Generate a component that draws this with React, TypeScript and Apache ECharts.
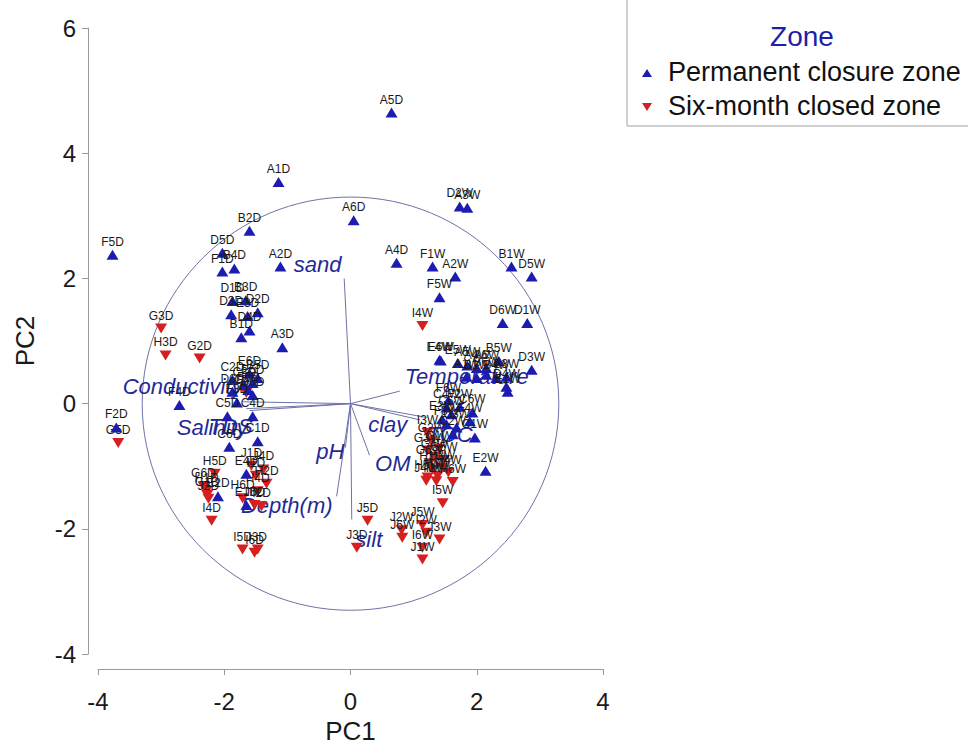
import React, { useEffect, useRef } from "react";
import * as echarts from "echarts";

type Site = [string, number, number];

// PCA scores (PC1, PC2) for each sampling site, D = dry season, W = wet season
const permanentDry: Site[] = [
  ["A1D", -1.14, 3.54], ["A2D", -1.11, 2.19], ["A3D", -1.08, 0.9], ["A4D", 0.73, 2.25],
  ["A5D", 0.65, 4.65], ["A6D", 0.05, 2.93], ["B1D", -1.73, 1.06], ["B2D", -1.6, 2.76],
  ["B3D", -1.66, 1.65], ["B4D", -1.84, 2.16], ["B5D", -1.47, 0.41], ["B6D", -1.55, 0.14],
  ["C1D", -1.47, -0.6], ["C2D", -1.87, 0.38], ["C3D", -1.68, 0.3], ["C4D", -1.55, -0.2],
  ["C5D", -1.95, -0.2], ["C6D", -1.92, -0.69], ["D1D", -1.87, 1.64], ["D2D", -1.47, 1.46],
  ["D3D", -1.89, 1.43], ["D4D", -1.6, 1.17], ["D5D", -2.03, 2.41], ["D6D", -1.87, 0.19],
  ["E1D", -1.65, -1.62], ["E2D", -2.1, -1.48], ["E3D", -1.63, 1.4], ["E4D", -1.65, -1.12],
  ["E5D", -1.55, 0.33], ["E6D", -1.6, 0.48], ["F1D", -2.03, 2.11], ["F2D", -3.71, -0.38],
  ["F3D", -1.8, 0.02], ["F4D", -2.71, -0.02], ["F5D", -3.77, 2.38], ["F6D", -1.62, 0.22],
];

const permanentWet: Site[] = [
  ["A1W", 1.84, 0.43], ["A2W", 1.66, 2.03], ["A3W", 1.85, 3.13], ["A4W", 2.0, 0.57],
  ["A5W", 1.85, 0.61], ["A6W", 2.15, 0.57], ["B1W", 2.55, 2.19], ["B2W", 2.0, 0.41],
  ["B3W", 2.47, 0.43], ["B4W", 2.31, 0.41], ["B5W", 2.35, 0.68], ["B6W", 2.15, 0.46],
  ["C1W", 1.97, -0.54], ["C2W", 1.62, -0.49], ["C3W", 1.68, -0.38], ["C4W", 1.52, -0.06],
  ["C5W", 1.6, -0.17], ["C6W", 1.93, -0.14], ["D1W", 2.8, 1.29], ["D2W", 1.73, 3.15],
  ["D3W", 2.87, 0.54], ["D4W", 2.47, 0.27], ["D5W", 2.87, 2.03], ["D6W", 2.41, 1.29],
  ["E1W", 2.49, 0.19], ["E2W", 2.14, -1.07], ["E3W", 1.45, -0.25], ["E4W", 1.41, 0.7],
  ["E5W", 1.7, 0.65], ["E6W", 1.43, 0.69], ["F1W", 1.3, 2.19], ["F2W", 1.73, -0.05],
  ["F3W", 1.52, -0.33], ["F4W", 1.89, -0.28], ["F5W", 1.41, 1.7], ["F6W", 1.55, 0.05],
];

const sixMonthDry: Site[] = [
  ["G1D", -2.27, -1.46], ["G2D", -2.39, 0.72], ["G3D", -3.0, 1.2], ["G4D", -1.65, 0.17],
  ["G5D", -3.68, -0.63], ["G6D", -2.33, -1.32], ["H1D", -2.28, -1.39], ["H2D", -1.33, -1.28],
  ["H3D", -2.93, 0.77], ["H4D", -1.47, -1.4], ["H5D", -2.15, -1.12], ["H6D", -1.71, -1.51],
  ["I1D", -1.5, -1.15], ["I2D", -1.41, -1.64], ["I3D", -1.47, -2.33], ["I4D", -2.2, -1.87],
  ["I5D", -1.71, -2.33], ["I6D", -1.52, -2.38], ["J1D", -1.57, -0.99], ["J2D", -2.25, -1.52],
  ["J3D", 0.1, -2.3], ["J4D", -1.38, -1.05], ["J5D", 0.27, -1.87], ["J6D", -1.52, -1.62],
];

const sixMonthWet: Site[] = [
  ["G1W", 1.4, -0.72], ["G2W", 1.28, -0.6], ["G3W", 1.22, -0.75], ["G4W", 1.33, -0.85],
  ["G5W", 1.48, -0.9], ["G6W", 1.25, -0.95], ["H1W", 1.3, -1.05], ["H2W", 1.45, -1.02],
  ["H3W", 1.38, -1.15], ["H4W", 1.55, -1.1], ["H5W", 1.22, -1.18], ["H6W", 1.62, -1.25],
  ["I1W", 1.36, -1.24], ["I2W", 1.2, -2.06], ["I3W", 1.22, -0.47], ["I4W", 1.14, 1.24],
  ["I5W", 1.46, -1.59], ["I6W", 1.14, -2.3], ["J1W", 1.14, -2.49], ["J2W", 0.81, -2.02],
  ["J3W", 1.41, -2.17], ["J4W", 1.2, -1.23], ["J5W", 1.14, -1.94], ["J6W", 0.82, -2.14],
];

// Variable loadings (arrow tips) and where each variable name is written
const loadingNames = ["sand", "Conductivity", "Salinity", "TDS", "Temperature", "clay", "TOC", "pH", "OM", "Depth(m)", "silt"];
const loadingPC1 = [-0.1, -1.7, -1.65, -1.6, 0.78, 1.2, 1.1, -0.08, 0.3, -0.22, 0.02];
const loadingPC2 = [2.0, 0.03, -0.08, -0.11, 0.2, -0.22, -0.26, -0.7, -0.82, -1.48, -1.85];
const loadingLabelPC1 = [-0.52, -2.66, -2.19, -1.9, 1.84, 0.59, 1.57, -0.32, 0.67, -1.01, 0.29];
const loadingLabelPC2 = [2.22, 0.28, -0.38, -0.36, 0.44, -0.33, -0.49, -0.77, -0.96, -1.62, -2.17];

// Correlation circle radius in score units
const circleRadius = 3.3;

const seriesNames = ["Permanent closure zone", "Six-month closed zone"];
const xTicks = { min: -4, max: 4, interval: 2 };
const yTicks = { min: -4, max: 6, interval: 2 };

const FONT = "'Liberation Sans', Arial, Helvetica, sans-serif";
const BLUE = "#1c1cb0";
const RED = "#d42020";
const VECTOR = "#6e72a8";
const LOADING_TEXT = "#1f2a96";
const DOWN_TRIANGLE = "path://M0,0L10,0L5,10Z";

const toPoints = (rows: Site[]) => rows.map(([name, x, y]) => ({ name, value: [x, y] }));

export default function App() {
  const ref = useRef<HTMLDivElement>(null);

  useEffect(() => {
    document.body.style.margin = "0";
    const chart = echarts.init(ref.current!, null, { renderer: "svg" });

    const pointLabel = {
      show: true,
      formatter: "{b}",
      position: "top",
      distance: 2,
      fontSize: 12,
      color: "#1a1a1a",
      fontFamily: FONT,
    };

    const vectorLines = loadingNames.map((name, i) => ({
      type: "line",
      name: "loading-" + name,
      data: [
        [0, 0],
        [loadingPC1[i], loadingPC2[i]],
      ],
      symbol: "none",
      silent: true,
      lineStyle: { color: VECTOR, width: 1 },
      z: 2,
    }));

    const axisCommon = {
      type: "value",
      splitLine: { show: false },
      axisLine: { show: true, onZero: false, lineStyle: { color: "#9a9a9a", width: 1 } },
      axisTick: { show: true, inside: false, length: 6, lineStyle: { color: "#9a9a9a" } },
      nameLocation: "middle",
      nameTextStyle: { fontSize: 26, color: "#1a1a1a", fontFamily: FONT },
    };

    chart.setOption({
      animation: false,
      backgroundColor: "#ffffff",
      grid: { left: 98, right: 365, top: 28, bottom: 86, containLabel: false },
      xAxis: {
        ...axisCommon,
        ...xTicks,
        offset: 15,
        name: "PC1",
        nameGap: 47,
        axisLabel: { fontSize: 24, margin: 20, color: "#1a1a1a", fontFamily: FONT },
      },
      yAxis: {
        ...axisCommon,
        ...yTicks,
        offset: 10,
        name: "PC2",
        nameGap: 50,
        axisLabel: { fontSize: 24, margin: 12, color: "#1a1a1a", fontFamily: FONT },
      },
      series: [
        ...vectorLines,
        {
          type: "scatter",
          name: "loading-labels",
          data: loadingNames.map((name, i) => ({ name, value: [loadingLabelPC1[i], loadingLabelPC2[i]] })),
          symbolSize: 1,
          itemStyle: { color: "transparent", opacity: 1 },
          silent: true,
          z: 3,
          label: {
            show: true,
            formatter: "{b}",
            position: "inside",
            align: "center",
            verticalAlign: "middle",
            fontSize: 22,
            fontStyle: "italic",
            color: LOADING_TEXT,
            opacity: 1,
            fontFamily: FONT,
          },
        },
        {
          type: "scatter",
          name: seriesNames[0],
          data: toPoints([...permanentDry, ...permanentWet]),
          symbol: "triangle",
          symbolSize: [12, 10],
          itemStyle: { color: BLUE, opacity: 1 },
          label: pointLabel,
          z: 5,
        },
        {
          type: "scatter",
          name: seriesNames[1],
          data: toPoints([...sixMonthDry, ...sixMonthWet]),
          symbol: DOWN_TRIANGLE,
          symbolSize: [12, 10],
          itemStyle: { color: RED, opacity: 1 },
          label: pointLabel,
          z: 4,
        },
      ],
    });

    // Correlation circle, sized through the axes' own scales
    const c = chart.convertToPixel({ gridIndex: 0 }, [0, 0]) as number[];
    const px = chart.convertToPixel({ gridIndex: 0 }, [circleRadius, 0]) as number[];
    const py = chart.convertToPixel({ gridIndex: 0 }, [0, circleRadius]) as number[];

    chart.setOption({
      graphic: [
        {
          type: "ellipse",
          z: 1,
          silent: true,
          shape: { cx: c[0], cy: c[1], rx: px[0] - c[0], ry: c[1] - py[1] },
          style: { fill: "none", stroke: VECTOR, lineWidth: 1 },
        },
        {
          type: "group",
          z: 10,
          children: [
            {
              type: "rect",
              shape: { x: 627, y: -2, width: 360, height: 128 },
              style: { fill: "#ffffff", stroke: "#a0a0a0", lineWidth: 1 },
            },
            {
              type: "text",
              x: 802,
              y: 36,
              style: {
                text: "Zone",
                fontSize: 28,
                fontFamily: FONT,
                fill: "#1e1ea8",
                align: "center",
                verticalAlign: "middle",
              },
            },
            {
              type: "polygon",
              shape: { points: [[642, 77], [652, 77], [647, 69]] },
              style: { fill: BLUE },
            },
            {
              type: "text",
              x: 668,
              y: 72,
              style: {
                text: seriesNames[0],
                fontSize: 27,
                fontFamily: FONT,
                fill: "#111111",
                verticalAlign: "middle",
              },
            },
            {
              type: "polygon",
              shape: { points: [[642, 103], [652, 103], [647, 111]] },
              style: { fill: RED },
            },
            {
              type: "text",
              x: 668,
              y: 106,
              style: {
                text: seriesNames[1],
                fontSize: 27,
                fontFamily: FONT,
                fill: "#111111",
                verticalAlign: "middle",
              },
            },
          ],
        },
      ],
    });

    return () => chart.dispose();
  }, []);

  return <div ref={ref} style={{ width: 968, height: 749 }} />;
}
